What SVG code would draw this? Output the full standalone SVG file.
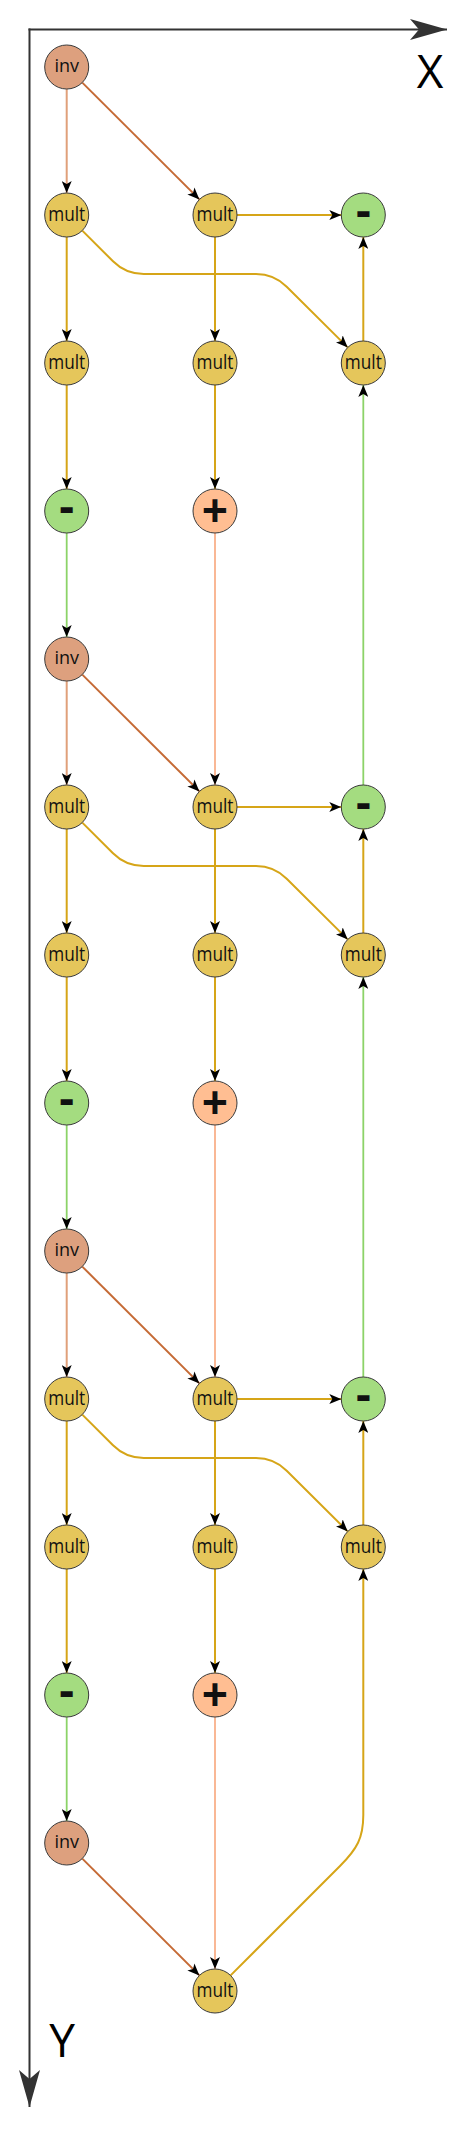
<svg xmlns="http://www.w3.org/2000/svg" width="474" height="2133" viewBox="0 0 474 2133">
<style>
.n{stroke:#3a3a3a;stroke-width:1}
.inv{fill:#DDA07E}.mult{fill:#E5C65B}.minus{fill:#A4DC80}.plus{fill:#FFBE92}
.t{font-family:"Open Sans","DejaVu Sans",sans-serif;text-anchor:middle;fill:#111}
.tm{font-size:20px}.ti{font-size:18px}.ts{font-size:46px;font-weight:bold}
.e{fill:none;stroke-width:2;marker-end:url(#ah)}
.y{stroke:#D6A518}.iv{stroke:#E0A07A}.dg{stroke:#C56A35}.g{stroke:#8CD368;stroke-width:1.8}.s{stroke:#F9B08A;stroke-width:1.8}
.ax{stroke:#333;stroke-width:2;fill:none;marker-end:url(#axh)}
.lab{font-family:"Open Sans","DejaVu Sans",sans-serif;font-size:46px;fill:#000;text-anchor:middle}
</style>
<defs>
<marker id="ah" viewBox="0 0 12 10" refX="12" refY="5" markerWidth="12" markerHeight="10" markerUnits="userSpaceOnUse" orient="auto"><path d="M0,0 L12,5 L0,10 L3,5 Z" fill="#000"/></marker>
<marker id="axh" viewBox="0 0 37 21" refX="37" refY="10.5" markerWidth="37" markerHeight="21" markerUnits="userSpaceOnUse" orient="auto"><path d="M0,0 L37,10.5 L0,21 L9,10.5 Z" fill="#333"/></marker>
</defs>
<g id="axes">
<line class="ax" x1="28.5" y1="29.5" x2="447" y2="29.5"/>
<line class="ax" x1="29.5" y1="28.5" x2="29.5" y2="2107"/>
<text class="lab" x="430" y="88">X</text>
<text class="lab" x="62" y="2057">Y</text>
</g>
<g id="connectors">
<path class="e iv" d="M66.7 89 L66.7 193"/>
<path class="e dg" d="M82.3 82.6 L199.4 199.4"/>
<path class="e y" d="M66.7 237 L66.7 341"/>
<path class="e y" d="M66.7 385 L66.7 489"/>
<path class="e g" d="M66.7 533 L66.7 637"/>
<path class="e y" d="M215 237 L215 341"/>
<path class="e y" d="M215 385 L215 489"/>
<path class="e s" d="M215 533 L215 785"/>
<path class="e y" d="M237 215 L341.3 215"/>
<path class="e y" d="M363.3 341 L363.3 237"/>
<path class="e y" d="M82.3 230.6 L113 261.3 Q125.7 274 143.7 274 L256 274 Q274 274 286.7 286.7 L347.7 347.4"/>

<path class="e iv" d="M66.7 681 L66.7 785"/>
<path class="e dg" d="M82.3 674.6 L199.4 791.4"/>
<path class="e y" d="M66.7 829 L66.7 933"/>
<path class="e y" d="M66.7 977 L66.7 1081"/>
<path class="e g" d="M66.7 1125 L66.7 1229"/>
<path class="e y" d="M215 829 L215 933"/>
<path class="e y" d="M215 977 L215 1081"/>
<path class="e s" d="M215 1125 L215 1377"/>
<path class="e y" d="M237 807 L341.3 807"/>
<path class="e y" d="M363.3 933 L363.3 829"/>
<path class="e y" d="M82.3 822.6 L113 853.3 Q125.7 866 143.7 866 L256 866 Q274 866 286.7 878.7 L347.7 939.4"/>
<path class="e g" d="M363.3 785 L363.3 385"/>

<path class="e iv" d="M66.7 1273 L66.7 1377"/>
<path class="e dg" d="M82.3 1266.6 L199.4 1383.4"/>
<path class="e y" d="M66.7 1421 L66.7 1525"/>
<path class="e y" d="M66.7 1569 L66.7 1673"/>
<path class="e g" d="M66.7 1717 L66.7 1821"/>
<path class="e y" d="M215 1421 L215 1525"/>
<path class="e y" d="M215 1569 L215 1673"/>
<path class="e s" d="M215 1717 L215 1969"/>
<path class="e y" d="M237 1399 L341.3 1399"/>
<path class="e y" d="M363.3 1525 L363.3 1421"/>
<path class="e y" d="M82.3 1414.6 L113 1445.3 Q125.7 1458 143.7 1458 L256 1458 Q274 1458 286.7 1470.7 L347.7 1531.4"/>
<path class="e g" d="M363.3 1377 L363.3 977"/>

<path class="e dg" d="M82.3 1858.6 L199.4 1975.4"/>
<path class="e y" d="M230.6 1975.4 L340 1866 C357 1849 363.3 1838 363.3 1815 L363.3 1569"/>
</g>
<g id="nodes">
<g id="inv1"><circle class="n inv" cx="66.7" cy="67" r="22"/><text class="t ti" x="66.7" y="72">inv</text></g>
<g id="mult1a"><circle class="n mult" cx="66.7" cy="215" r="22"/><text class="t tm" x="66.7" y="221" textLength="37" lengthAdjust="spacingAndGlyphs">mult</text></g>
<g id="mult1b"><circle class="n mult" cx="215" cy="215" r="22"/><text class="t tm" x="215" y="221" textLength="37" lengthAdjust="spacingAndGlyphs">mult</text></g>
<g id="minus1r"><circle class="n minus" cx="363.3" cy="215" r="22"/><text class="t ts" x="363.3" y="226.5">-</text></g>
<g id="mult2a"><circle class="n mult" cx="66.7" cy="363" r="22"/><text class="t tm" x="66.7" y="369" textLength="37" lengthAdjust="spacingAndGlyphs">mult</text></g>
<g id="mult2b"><circle class="n mult" cx="215" cy="363" r="22"/><text class="t tm" x="215" y="369" textLength="37" lengthAdjust="spacingAndGlyphs">mult</text></g>
<g id="mult2c"><circle class="n mult" cx="363.3" cy="363" r="22"/><text class="t tm" x="363.3" y="369" textLength="37" lengthAdjust="spacingAndGlyphs">mult</text></g>
<g id="minus3l"><circle class="n minus" cx="66.7" cy="511" r="22"/><text class="t ts" x="66.7" y="522.5">-</text></g>
<g id="plus3"><circle class="n plus" cx="215" cy="511" r="22"/><text class="t ts" x="215" y="527">+</text></g>

<g id="inv2"><circle class="n inv" cx="66.7" cy="659" r="22"/><text class="t ti" x="66.7" y="664">inv</text></g>
<g id="mult5a"><circle class="n mult" cx="66.7" cy="807" r="22"/><text class="t tm" x="66.7" y="813" textLength="37" lengthAdjust="spacingAndGlyphs">mult</text></g>
<g id="mult5b"><circle class="n mult" cx="215" cy="807" r="22"/><text class="t tm" x="215" y="813" textLength="37" lengthAdjust="spacingAndGlyphs">mult</text></g>
<g id="minus5r"><circle class="n minus" cx="363.3" cy="807" r="22"/><text class="t ts" x="363.3" y="818.5">-</text></g>
<g id="mult6a"><circle class="n mult" cx="66.7" cy="955" r="22"/><text class="t tm" x="66.7" y="961" textLength="37" lengthAdjust="spacingAndGlyphs">mult</text></g>
<g id="mult6b"><circle class="n mult" cx="215" cy="955" r="22"/><text class="t tm" x="215" y="961" textLength="37" lengthAdjust="spacingAndGlyphs">mult</text></g>
<g id="mult6c"><circle class="n mult" cx="363.3" cy="955" r="22"/><text class="t tm" x="363.3" y="961" textLength="37" lengthAdjust="spacingAndGlyphs">mult</text></g>
<g id="minus7l"><circle class="n minus" cx="66.7" cy="1103" r="22"/><text class="t ts" x="66.7" y="1114.5">-</text></g>
<g id="plus7"><circle class="n plus" cx="215" cy="1103" r="22"/><text class="t ts" x="215" y="1119">+</text></g>

<g id="inv3"><circle class="n inv" cx="66.7" cy="1251" r="22"/><text class="t ti" x="66.7" y="1256">inv</text></g>
<g id="mult9a"><circle class="n mult" cx="66.7" cy="1399" r="22"/><text class="t tm" x="66.7" y="1405" textLength="37" lengthAdjust="spacingAndGlyphs">mult</text></g>
<g id="mult9b"><circle class="n mult" cx="215" cy="1399" r="22"/><text class="t tm" x="215" y="1405" textLength="37" lengthAdjust="spacingAndGlyphs">mult</text></g>
<g id="minus9r"><circle class="n minus" cx="363.3" cy="1399" r="22"/><text class="t ts" x="363.3" y="1410.5">-</text></g>
<g id="mult10a"><circle class="n mult" cx="66.7" cy="1547" r="22"/><text class="t tm" x="66.7" y="1553" textLength="37" lengthAdjust="spacingAndGlyphs">mult</text></g>
<g id="mult10b"><circle class="n mult" cx="215" cy="1547" r="22"/><text class="t tm" x="215" y="1553" textLength="37" lengthAdjust="spacingAndGlyphs">mult</text></g>
<g id="mult10c"><circle class="n mult" cx="363.3" cy="1547" r="22"/><text class="t tm" x="363.3" y="1553" textLength="37" lengthAdjust="spacingAndGlyphs">mult</text></g>
<g id="minus11l"><circle class="n minus" cx="66.7" cy="1695" r="22"/><text class="t ts" x="66.7" y="1706.5">-</text></g>
<g id="plus11"><circle class="n plus" cx="215" cy="1695" r="22"/><text class="t ts" x="215" y="1711">+</text></g>

<g id="inv4"><circle class="n inv" cx="66.7" cy="1843" r="22"/><text class="t ti" x="66.7" y="1848">inv</text></g>
<g id="mult13"><circle class="n mult" cx="215" cy="1991" r="22"/><text class="t tm" x="215" y="1997" textLength="37" lengthAdjust="spacingAndGlyphs">mult</text></g>
</g>
</svg>
